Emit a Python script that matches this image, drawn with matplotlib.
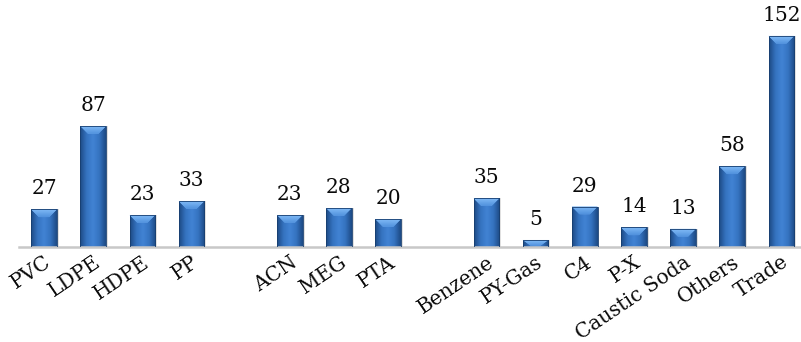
import matplotlib.pyplot as plt
import numpy as np
from matplotlib.colors import LinearSegmentedColormap
from matplotlib.patches import Polygon

# slots: groups separated by an empty slot
categories = ["PVC", "LDPE", "HDPE", "PP",
              "ACN", "MEG", "PTA",
              "Benzene", "PY-Gas", "C4", "P-X", "Caustic Soda", "Others", "Trade"]
values = [27, 87, 23, 33,
          23, 28, 20,
          35, 5, 29, 14, 13, 58, 152]
slots = [0, 1, 2, 3, 5, 6, 7, 9, 10, 11, 12, 13, 14, 15]

plt.rcParams["font.family"] = ["DejaVu Serif"]

body_cmap = LinearSegmentedColormap.from_list(
    "body", ["#1d4a85", "#3573c0", "#4283d4", "#3573c0", "#1d4a85"])
cap_cmap = LinearSegmentedColormap.from_list("cap", ["#80baf6", "#5091dd"])

fig = plt.figure(figsize=(8.01, 3.42), dpi=100)
ax = fig.add_axes([0.0243, 0.278, 0.9757, 0.69])
width = 0.52
ymax = 170

bars = ax.bar(slots, values, width=width, color="none", edgecolor="none", zorder=2)
gradient = np.linspace(0, 1, 64).reshape(1, -1)
cap_h = 5.5
for bar in bars:
    x0 = bar.get_x()
    w = bar.get_width()
    h = bar.get_height()
    # soft shadow
    ax.add_patch(plt.Rectangle((x0 + 0.04, 0), w, h, color="#000000", alpha=0.12, lw=0, zorder=1))
    im = ax.imshow(gradient, cmap=body_cmap, aspect="auto", extent=(x0, x0 + w, 0, h),
                   zorder=2, interpolation="bicubic")
    im.set_clip_path(bar)
    ch = min(cap_h, h * 0.8)
    inset = w * 0.3
    cap = Polygon([(x0, h), (x0 + w, h), (x0 + w - inset, h - ch), (x0 + inset, h - ch)],
                  closed=True, facecolor="#6aa6ea", edgecolor="none", zorder=3)
    ax.add_patch(cap)
    vgrad = np.linspace(0, 1, 32).reshape(-1, 1)
    cim = ax.imshow(vgrad, cmap=cap_cmap, aspect="auto", extent=(x0, x0 + w, h - ch, h),
                    zorder=3, interpolation="bicubic", origin="upper")
    cim.set_clip_path(cap)
    ax.add_patch(plt.Rectangle((x0, 0), w, h, facecolor="none", edgecolor="#173e70",
                               lw=0.6, zorder=4))
    ax.annotate(f"{h:g}", (x0 + w / 2, h), xytext=(0, 8), textcoords="offset points",
                ha="center", va="bottom", fontsize=14.5, color="#0a0a0a")

ax.set_xlim(-0.5, 15.4)
ax.set_ylim(0, ymax)
ax.set_xticks(slots)
ax.set_xticklabels(categories, rotation=34, ha="right", rotation_mode="anchor",
                   fontsize=14.5, color="#0a0a0a")
ax.tick_params(axis="x", length=0, pad=4)
ax.set_yticks([])
for side in ["left", "top", "right"]:
    ax.spines[side].set_visible(False)
ax.spines["bottom"].set_color("#c8c8c8")
ax.spines["bottom"].set_linewidth(1.8)

fig.savefig("out.png", dpi=100)
